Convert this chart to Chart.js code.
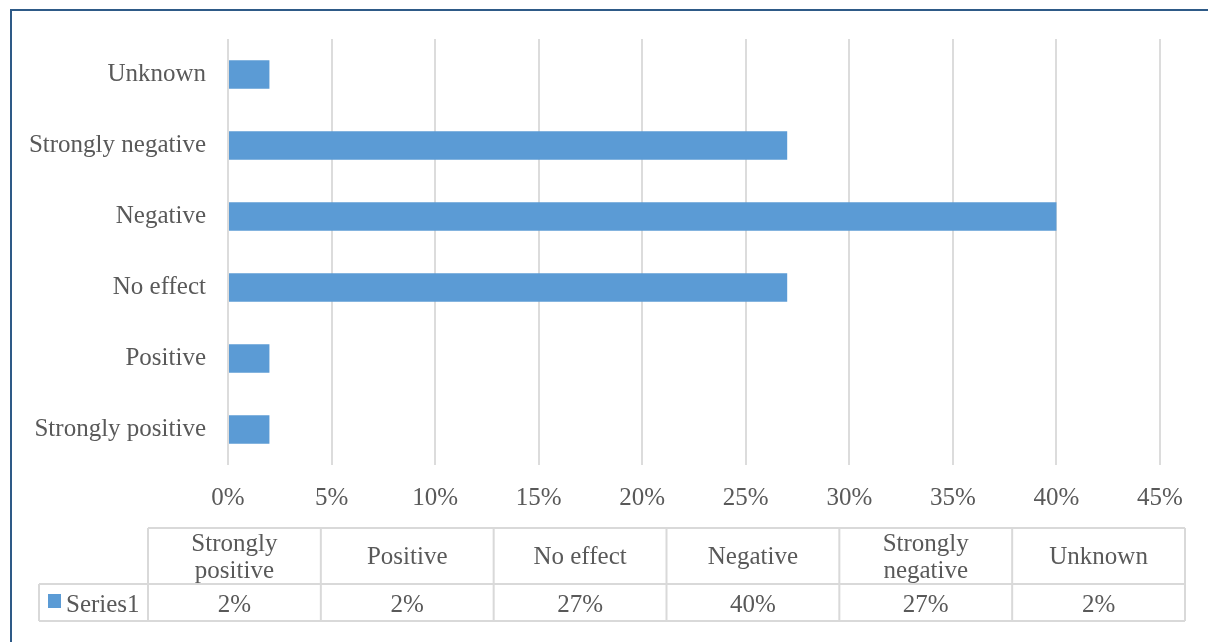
<!DOCTYPE html>
<html>
<head>
<meta charset="utf-8">
<script src="https://cdn.jsdelivr.net/npm/chart.js@4.4.1/dist/chart.umd.min.js"></script>
<style>
  html, body { margin: 0; padding: 0; background: #ffffff; overflow: hidden; }
  #wrap { position: relative; width: 1208px; height: 642px; }
  #frame { position: absolute; left: 10px; top: 9px; width: 1400px; height: 900px;
           border: 2px solid #2e5a87; box-sizing: border-box; pointer-events: none; }
  canvas { position: absolute; left: 0; top: 0; }
</style>
</head>
<body>
<div id="wrap">
  <canvas id="chart" width="1208" height="642"></canvas>
  <div id="frame"></div>
</div>
<script>
// Effect categories (bottom to top on the chart, left to right in the table)
const categories = ['Strongly positive', 'Positive', 'No effect', 'Negative', 'Strongly negative', 'Unknown'];
// Share of responses, in percent
const values = [2, 2, 27, 40, 27, 2];
const seriesName = 'Series1';
// Value axis ticks, in percent
const xTickValues = [0, 5, 10, 15, 20, 25, 30, 35, 40, 45];

const FONT = '"Liberation Serif", "Times New Roman", serif';
const FONT_SIZE = 25;
const TEXT = '#595959';
const BAR = '#5b9bd5';
const GRID = '#dcdcdc';

// Data table below the plot, built from the same arrays as the bars
const dataTable = {
  id: 'dataTable',
  afterDraw(chart) {
    const ctx = chart.ctx;
    const left = 39, colStart = 148, right = 1185;
    const top = 528, mid = 584, bottom = 621;
    const colW = (right - colStart) / categories.length;

    ctx.save();
    ctx.strokeStyle = '#d9d9d9';
    ctx.lineWidth = 2;
    ctx.beginPath();
    ctx.moveTo(colStart, top); ctx.lineTo(right, top);
    ctx.moveTo(left, mid); ctx.lineTo(right, mid);
    ctx.moveTo(left, bottom); ctx.lineTo(right, bottom);
    ctx.moveTo(left, mid); ctx.lineTo(left, bottom);
    for (let i = 0; i <= categories.length; i++) {
      const x = colStart + i * colW;
      ctx.moveTo(x, top); ctx.lineTo(x, bottom);
    }
    ctx.stroke();

    ctx.font = FONT_SIZE + 'px ' + FONT;
    ctx.fillStyle = TEXT;
    ctx.textAlign = 'center';
    ctx.textBaseline = 'middle';
    categories.forEach((name, i) => {
      const cx = colStart + (i + 0.5) * colW;
      if (ctx.measureText(name).width > colW - 24) {
        const words = name.split(' ');
        ctx.fillText(words[0], cx, 544);
        ctx.fillText(words.slice(1).join(' '), cx, 571);
      } else {
        ctx.fillText(name, cx, 557);
      }
      ctx.fillText(values[i] + '%', cx, 605);
    });

    // series key
    ctx.fillStyle = BAR;
    ctx.fillRect(48, 594, 13, 14);
    ctx.fillStyle = TEXT;
    ctx.textAlign = 'left';
    ctx.fillText(seriesName, 66, 605);
    ctx.restore();
  }
};

new Chart(document.getElementById('chart'), {
  type: 'bar',
  data: {
    labels: categories,
    datasets: [{
      label: seriesName,
      data: values,
      backgroundColor: BAR,
      borderWidth: 0,
      categoryPercentage: 1.0,
      barPercentage: 0.4
    }]
  },
  options: {
    indexAxis: 'y',
    responsive: false,
    animation: false,
    layout: { padding: { top: 39, left: 0, right: 48, bottom: 117 } },
    plugins: {
      legend: { display: false },
      tooltip: { enabled: false }
    },
    scales: {
      x: {
        min: 0,
        max: 45,
        afterBuildTicks(scale) { scale.ticks = xTickValues.map(v => ({ value: v })); },
        afterFit(scale) { scale.height = 60; },
        grid: { color: GRID, lineWidth: 2, drawTicks: false },
        border: { display: false },
        ticks: {
          padding: 18,
          color: TEXT,
          font: { family: FONT, size: FONT_SIZE },
          callback: v => v + '%'
        }
      },
      y: {
        reverse: true,
        afterFit(scale) { scale.width = 228; },
        grid: { display: false, drawTicks: false },
        border: { display: false },
        ticks: {
          padding: 22,
          color: TEXT,
          font: { family: FONT, size: FONT_SIZE }
        }
      }
    }
  },
  plugins: [dataTable]
});
</script>
</body>
</html>
